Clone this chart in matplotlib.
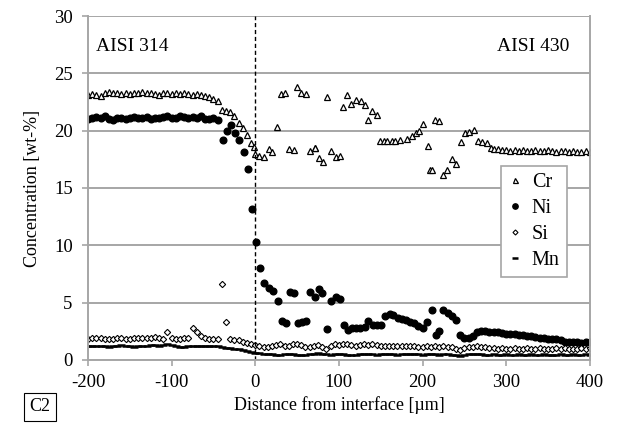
import numpy as np
import matplotlib
matplotlib.use('Agg')
import matplotlib.pyplot as plt

plt.rcParams['font.family'] = ['Liberation Serif', 'DejaVu Serif']
plt.rcParams['axes.unicode_minus'] = False

# ---- data (distance in um, concentration in wt-%) ----
# Cr: regular scan on the 314 side, then scattered points across the interface
cr_x_left = np.arange(-200, -40, 5)
cr_y_left = [23.1, 23.2, 23.1, 23.0, 23.3, 23.4, 23.3, 23.3, 23.2, 23.3, 23.2,
             23.3, 23.3, 23.4, 23.3, 23.3, 23.2, 23.1, 23.3, 23.3, 23.2, 23.3,
             23.2, 23.3, 23.2, 23.1, 23.2, 23.1, 23.0, 22.9, 22.8, 22.6]
cr_x_mid = [-40, -35, -30, -25, -20, -15, -10, -5, 0, -2, 4, 10, 16, 20, 26, 31,
            36, 40, 46, 50, 55, 61, 66, 71, 76, 72, 81, 86, 90, 96, 101, 105, 110,
            115, 121, 126, 131, 135, 140, 145, 149, 154, 158, 163, 167, 173, 181,
            187, 192, 196, 201, 206, 209, 211, 215, 220, 225, 229, 235, 240, 246,
            251, 256, 261, 266, 271, 277, 282]
cr_y_mid = [21.8, 21.7, 21.6, 21.3, 20.7, 20.2, 19.6, 18.9, 18.0, 18.6, 17.8,
            17.7, 18.4, 18.1, 20.3, 23.2, 23.3, 18.4, 18.3, 23.8, 23.3, 23.2, 18.2,
            18.5, 17.6, 18.5, 17.3, 22.9, 18.2, 17.7, 17.8, 22.1, 23.1, 22.3, 22.7,
            22.6, 22.2, 20.9, 21.7, 21.4, 19.1, 19.1, 19.1, 19.1, 19.1, 19.2, 19.3,
            19.5, 19.8, 20.0, 20.6, 18.7, 16.6, 16.6, 20.9, 20.8, 16.1, 16.6, 17.5,
            17.1, 19.0, 19.8, 19.9, 20.05, 19.1, 19.0, 18.9, 18.5]
cr_x_right = np.arange(285, 401, 5)
cr_y_right = [18.4, 18.4, 18.3, 18.3, 18.2, 18.3, 18.2, 18.3, 18.2, 18.2, 18.3,
              18.2, 18.2, 18.3, 18.2, 18.1, 18.2, 18.2, 18.1, 18.2, 18.1, 18.1,
              18.2, 18.1]

# Ni
ni_x_left = np.arange(-200, -40, 5)
ni_y_left = [21.0, 21.1, 21.2, 21.1, 21.3, 21.0, 20.9, 21.1, 21.1, 21.0, 21.1,
             21.2, 21.1, 21.1, 21.2, 21.0, 21.1, 21.1, 21.2, 21.3, 21.1, 21.1,
             21.3, 21.2, 21.1, 21.2, 21.1, 21.3, 21.0, 21.0, 21.1, 20.9]
ni_x_mid = [-39, -34, -29, -24, -19, -14, -9, -4, 1, 6, 11, 16, 21, 27, 32, 37,
            41, 46, 51, 56, 61, 66, 71, 76, 80, 86, 90, 96, 101, 106, 111, 116,
            120, 125, 131, 135, 141, 145, 150, 155, 161, 165, 171, 175, 180, 185,
            190, 195, 200, 205, 211, 216, 220, 225, 230, 235, 240, 245, 250, 255,
            260, 265, 270]
ni_y_mid = [19.2, 20.0, 20.5, 19.8, 19.2, 18.1, 16.7, 13.2, 10.3, 8.05, 6.7,
            6.25, 6.05, 5.1, 3.4, 3.25, 5.95, 5.8, 3.2, 3.3, 3.4, 5.9, 5.5, 6.2,
            5.8, 2.7, 5.1, 5.5, 5.3, 3.05, 2.6, 2.75, 2.75, 2.75, 2.9, 3.4, 3.05,
            3.05, 3.05, 3.85, 4.0, 3.9, 3.7, 3.6, 3.5, 3.35, 3.2, 3.0, 2.75, 3.35,
            4.4, 2.2, 2.5, 4.35, 4.1, 3.8, 3.5, 2.2, 1.9, 1.9, 2.1, 2.4, 2.5]
ni_x_right = np.arange(275, 401, 5)
ni_y_right = [2.5, 2.45, 2.4, 2.4, 2.35, 2.3, 2.3, 2.25, 2.2, 2.2, 2.1, 2.05,
              2.0, 1.95, 1.9, 1.85, 1.8, 1.8, 1.7, 1.6, 1.6, 1.55, 1.6, 1.5,
              1.55, 1.6]

# Si and Mn on a regular 5 um grid
grid_x = np.arange(-200, 401, 5)
si_y = [1.8, 1.9, 1.9, 1.9, 1.85, 1.8, 1.85, 1.9, 1.9, 1.85, 1.85, 1.9, 1.9,
        1.9, 1.95, 1.9, 2.0, 1.95, 1.85,
        2.45, 1.9, 1.85, 1.8, 1.9, 1.95, 2.75, 2.4, 2.1, 1.9, 1.85, 1.8, 1.85,
        6.6, 3.3, 1.8, 1.75, 1.7, 1.6, 1.5, 1.4, 1.3,
        1.2, 1.15, 1.1, 1.2, 1.3, 1.35, 1.2, 1.25, 1.4, 1.35, 1.3, 1.15, 1.1,
        1.2, 1.3, 1.1, 1.0, 1.2, 1.35, 1.3, 1.4, 1.35, 1.3, 1.25, 1.3, 1.35,
        1.3, 1.35, 1.3, 1.25, 1.2, 1.2, 1.2, 1.25, 1.25, 1.2, 1.25, 1.2, 1.15,
        1.1, 1.2, 1.15, 1.2, 1.15, 1.2, 1.15, 1.1, 1.0, 0.9, 1.05, 1.1, 1.15,
        1.2, 1.15, 1.1, 1.05, 1.05, 1.0, 1.05, 1.0, 1.0, 1.05, 1.0, 1.0, 1.05,
        1.0, 1.0, 1.05, 1.0, 0.95, 1.0, 1.05, 1.0, 1.05, 1.0, 0.95, 1.0, 1.05,
        1.0, 1.05]
mn_y = [1.2, 1.25, 1.25, 1.2, 1.2, 1.15, 1.2, 1.25, 1.3, 1.25, 1.2, 1.15, 1.2,
        1.2, 1.25, 1.3, 1.3, 1.25, 1.3, 1.35, 1.3, 1.25, 1.1, 1.15, 1.2, 1.2,
        1.25, 1.25, 1.2, 1.2, 1.25, 1.2, 1.1, 1.05, 1.05,
        1.0, 0.95, 0.85, 0.8, 0.7, 0.65,
        0.6, 0.55, 0.55, 0.5, 0.45, 0.45, 0.5, 0.55, 0.5, 0.45, 0.4, 0.45, 0.5,
        0.55, 0.6, 0.55, 0.5, 0.45, 0.5, 0.55, 0.5, 0.45, 0.4, 0.45, 0.5, 0.5,
        0.55, 0.5, 0.45, 0.5, 0.5, 0.55, 0.5, 0.45, 0.5, 0.5, 0.55, 0.5, 0.5,
        0.45, 0.5, 0.55, 0.5, 0.45, 0.5, 0.5, 0.45, 0.4, 0.35, 0.45, 0.5, 0.55,
        0.5, 0.5, 0.45, 0.45, 0.5, 0.45, 0.45, 0.5, 0.45, 0.45, 0.5, 0.45, 0.45,
        0.5, 0.45, 0.45, 0.5, 0.45, 0.4, 0.45, 0.5, 0.45, 0.45, 0.5, 0.45, 0.45,
        0.5, 0.45]

cr_x = np.concatenate([cr_x_left, cr_x_mid, cr_x_right])
cr_y = np.concatenate([cr_y_left, cr_y_mid, cr_y_right])
ni_x = np.concatenate([ni_x_left, ni_x_mid, ni_x_right])
ni_y = np.concatenate([ni_y_left, ni_y_mid, ni_y_right])

# ---- figure ----
fig = plt.figure(figsize=(6.17, 4.26), dpi=100)
ax = fig.add_axes([0.1426, 0.155, 0.8134, 0.8074])

gray = '#a6a6a6'
ax.set_axisbelow(True)
ax.grid(axis='y', color=gray, linewidth=1.4)

ax.plot(cr_x, cr_y, linestyle='none', marker='^', markersize=4.5,
        markerfacecolor='white', markeredgecolor='black', markeredgewidth=0.9,
        label='Cr')
ax.plot(ni_x, ni_y, linestyle='none', marker='o', markersize=4.8,
        color='black', label='Ni')
ax.plot(grid_x, si_y, linestyle='none', marker='D', markersize=3.2,
        markerfacecolor='white', markeredgecolor='black', markeredgewidth=0.8,
        label='Si')
ax.plot(grid_x, mn_y, linestyle='none', marker='_', markersize=5.5,
        markeredgewidth=1.8, color='black', label='Mn')

ax.axvline(0, color='black', linestyle=(0, (3, 2)), linewidth=1.0)

ax.set_xlim(-200, 400)
ax.set_ylim(0, 30)
ax.set_xticks(np.arange(-200, 401, 100))
ax.set_yticks(np.arange(0, 31, 5))
ax.tick_params(axis='both', colors=gray, labelcolor='black', labelsize=13.5,
               length=4, width=1.2, direction='out')
ax.tick_params(axis='x', pad=6)
ax.tick_params(axis='y', pad=7)
for side in ['left', 'right', 'bottom']:
    ax.spines[side].set_color(gray)
    ax.spines[side].set_linewidth(1.4)
ax.spines['top'].set_visible(False)

ax.set_xlabel('Distance from interface [\u00b5m]', fontsize=13, labelpad=4)
ax.set_ylabel('Concentration [wt-%]', fontsize=13, labelpad=9)

ax.text(0.015, 0.91, 'AISI 314', transform=ax.transAxes, fontsize=14,
        va='center', ha='left')
ax.text(0.96, 0.91, 'AISI 430', transform=ax.transAxes, fontsize=14,
        va='center', ha='right')

leg = ax.legend(loc='upper left', bbox_to_anchor=(0.822, 0.565), fontsize=14.5,
                frameon=True, fancybox=False, handlelength=0.7,
                handletextpad=0.5, borderpad=0.35, labelspacing=0.35,
                markerscale=0.8, borderaxespad=0)
leg.get_frame().set_edgecolor(gray)
leg.get_frame().set_linewidth(1.2)
leg.get_frame().set_alpha(1)

fig.text(0.065, 0.045, 'C2', fontsize=13, ha='center', va='center',
         bbox=dict(boxstyle='square,pad=0.3', facecolor='white',
                   edgecolor='black', linewidth=0.8))

fig.savefig('out.png', dpi=100)
